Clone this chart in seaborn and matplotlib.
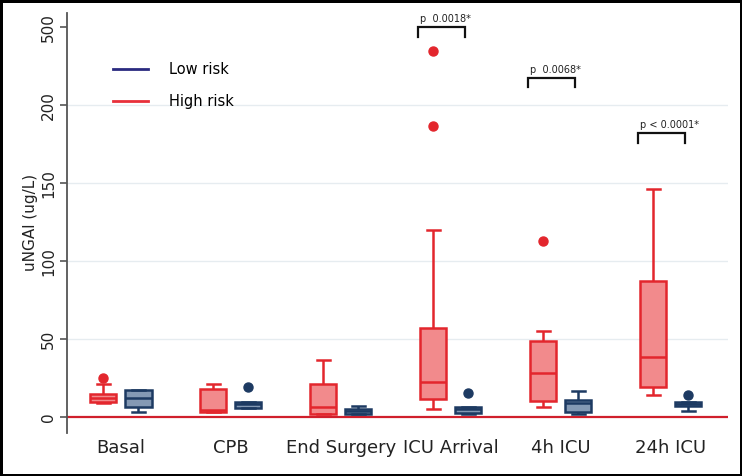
import numpy as np
import pandas as pd
import matplotlib
matplotlib.use("Agg")
import matplotlib.pyplot as plt
from matplotlib.lines import Line2D
import seaborn as sns

# time points
groups = ["Basal", "CPB", "End Surgery", "ICU Arrival", "4h ICU", "24h ICU"]

# high risk: whisker low, q1, median, q3, whisker high, outliers
high_lo = [9.0, 3.5, 2.0, 5.3, 6.4, 14.1]
high_q1 = [9.9, 3.6, 2.5, 11.9, 10.4, 19.2]
high_med = [12.6, 4.5, 6.8, 22.4, 28.2, 38.5]
high_q3 = [15.3, 18.0, 21.3, 57.0, 49.1, 87.6]
high_hi = [21.2, 21.2, 36.7, 120.0, 55.3, 146.3]
high_out = [[25.0], [], [], [187.0, 409.0], [113.0], []]

# low risk
low_lo = [3.6, 6.2, 2.0, 1.9, 1.9, 4.0]
low_q1 = [6.8, 6.2, 2.5, 3.0, 3.6, 7.2]
low_med = [12.6, 8.3, 4.0, 5.1, 9.0, 8.5]
low_q3 = [17.5, 9.6, 5.5, 6.8, 11.1, 9.6]
low_hi = [17.5, 9.6, 7.4, 6.8, 17.0, 9.6]
low_out = [[], [19.6], [], [15.8], [], [14.1]]

# p-values over ICU Arrival, 4h ICU, 24h ICU
p_groups = ["ICU Arrival", "4h ICU", "24h ICU"]
p_labels = ["p  0.0018*", "p  0.0068*", "p < 0.0001*"]
p_level = [500, 305, 182]

hue_order = ["High risk", "Low risk"]
red_edge, red_fill = "#e3262d", "#f28a8c"
blue_edge, blue_fill = "#1d3a62", "#8499b4"
fills = {"High risk": red_fill, "Low risk": blue_fill}


def sample(lo, q1, med, q3, hi, out):
    # values whose quartiles / whiskers reproduce the summary
    return [lo] + [q1] * 4 + [med] * 4 + [q3] * 4 + [hi] + list(out)


rows = []
for i, g in enumerate(groups):
    for v in sample(high_lo[i], high_q1[i], high_med[i], high_q3[i], high_hi[i], high_out[i]):
        rows.append({"time": g, "risk": "High risk", "ngal": v})
    for v in sample(low_lo[i], low_q1[i], low_med[i], low_q3[i], low_hi[i], low_out[i]):
        rows.append({"time": g, "risk": "Low risk", "ngal": v})
df = pd.DataFrame(rows)

fig = plt.figure(figsize=(7.42, 4.76), dpi=100, edgecolor="black", linewidth=2.5)
ax = fig.add_axes([0.0903, 0.0903, 0.8907, 0.8827])

for risk, edge in [("High risk", red_edge), ("Low risk", blue_edge)]:
    sns.boxplot(data=df[df["risk"] == risk], x="time", y="ngal", hue="risk",
                order=groups, hue_order=hue_order, palette=fills, dodge=True,
                linecolor=edge, linewidth=1.8, width=0.64, gap=0.26, whis=1.5,
                saturation=1, legend=False, ax=ax,
                flierprops=dict(marker="o", markersize=6.5, markerfacecolor=edge,
                                markeredgecolor=edge))

# broken axis above 200
def fwd(y):
    y = np.asarray(y, dtype=float)
    return np.where(y <= 200, y, 200 + (y - 200) / 6)


def inv(y):
    y = np.asarray(y, dtype=float)
    return np.where(y <= 200, y, 200 + (y - 200) * 6)


ax.set_yscale("function", functions=(fwd, inv))
ax.set_ylim(-10, 555)
ax.set_xlim(-0.49, 5.52)
ax.set_yticks([0, 50, 100, 150, 200, 500])
ax.set_yticklabels(["0", "50", "100", "150", "200", "500"], rotation=90, va="center",
                   fontsize=11)
ax.axhline(0, color="#d01f2c", lw=1.6, zorder=1)
ax.yaxis.grid(True, color="#e6ecf0", lw=1)
ax.set_axisbelow(True)
for line, t in zip(ax.get_ygridlines(), [0, 50, 100, 150, 200, 500]):
    if t in (0, 500):
        line.set_visible(False)

for s in ["top", "right", "bottom"]:
    ax.spines[s].set_visible(False)
ax.spines["left"].set_color("#555555")
ax.spines["left"].set_linewidth(1.3)
ax.tick_params(axis="y", length=5, color="#555555", width=1.2, pad=3, labelcolor="#222222")
ax.tick_params(axis="x", length=0, pad=4, labelsize=13, labelcolor="#222222")
ax.set_xlabel("")
ax.set_ylabel("uNGAl (ug/L)", fontsize=11, color="#222222", labelpad=2)

# significance brackets
for g, lab, lev in zip(p_groups, p_labels, p_level):
    c = groups.index(g)
    x0, x1 = c - 0.30, c + 0.13
    top = float(lev)
    bot = float(inv(fwd(top) - 6))
    ax.plot([x0, x0, x1, x1], [bot, top, top, bot], color="#111111", lw=1.6,
            solid_joinstyle="miter")
    ax.text(x0 + 0.02, float(inv(fwd(top) + 2)), lab, fontsize=7, color="#222222",
            ha="left", va="bottom")

handles = [Line2D([], [], color="#2a2a80", lw=2),
           Line2D([], [], color="#e8303a", lw=2)]
ax.legend(handles, ["Low risk", "High risk"], loc="upper left",
          bbox_to_anchor=(0.05, 0.915), frameon=False, fontsize=10.5,
          handlelength=2.4, handletextpad=1.4, labelspacing=1.2)

fig.savefig("out.png", dpi=100, edgecolor=fig.get_edgecolor())
